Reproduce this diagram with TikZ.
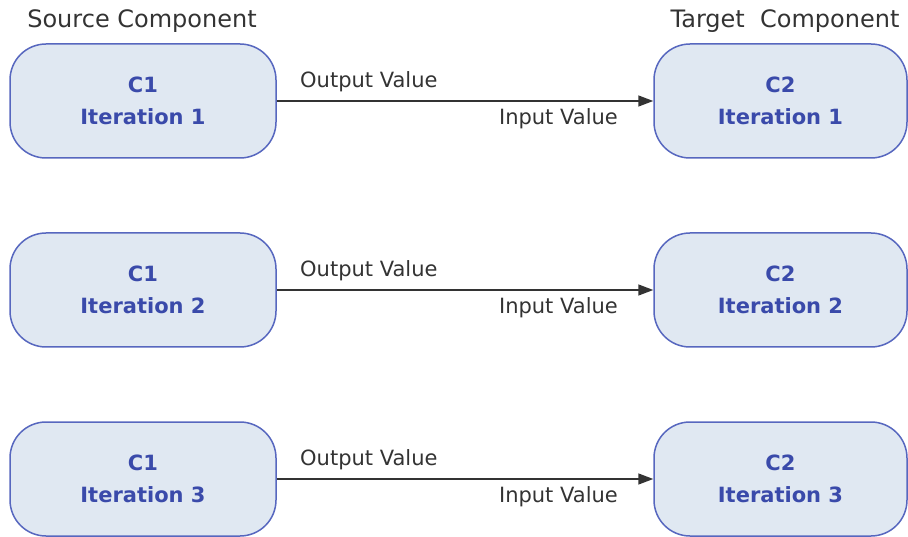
\documentclass[tikz,border=0pt]{standalone}
\usepackage{fontspec}
\setmainfont{DejaVu Sans}
\usetikzlibrary{arrows.meta}
\definecolor{boxfill}{HTML}{E0E8F2}
\definecolor{boxdraw}{HTML}{5767BF}
\definecolor{boxtext}{HTML}{3A4AAA}
\definecolor{labeltext}{HTML}{333333}
\tikzset{
  comp/.style={draw=boxdraw, fill=boxfill, line width=1.5pt, rounded corners=36pt,
    minimum height=114pt, inner sep=0pt, align=center, text=boxtext,
    font=\fontsize{21}{32}\selectfont\bfseries},
  srcbox/.style={comp, minimum width=266pt},
  tgtbox/.style={comp, minimum width=253pt},
  lbl/.style={text=labeltext, font=\fontsize{21}{25}\selectfont, inner sep=0pt},
  hdr/.style={text=labeltext, font=\fontsize{24}{28}\selectfont, inner sep=0pt},
  flow/.style={draw=labeltext, line width=1.5pt, -{Triangle[length=15pt,width=11pt]}}
}
\begin{document}
\begin{tikzpicture}[x=1pt,y=1pt]
\useasboundingbox (0,0) rectangle (908,-537);
\node[hdr] (hs) at (142,-21) {Source Component};
\node[hdr] (ht) at (785,-21) {Target\ \ Component};
\foreach \i/\y in {1/101,2/290,3/479}{
  \node[srcbox] (s\i) at (143,-\y) {C1\\Iteration \i};
  \node[tgtbox] (t\i) at (780.5,-\y) {C2\\Iteration \i};
  \draw[flow] (s\i.east) -- (t\i.west);
  \node[lbl, anchor=west] (o\i) at (300,-\y+19) {Output Value};
  \node[lbl, anchor=east] (in\i) at (618,-\y-18) {Input Value};
}
\end{tikzpicture}
\end{document}
